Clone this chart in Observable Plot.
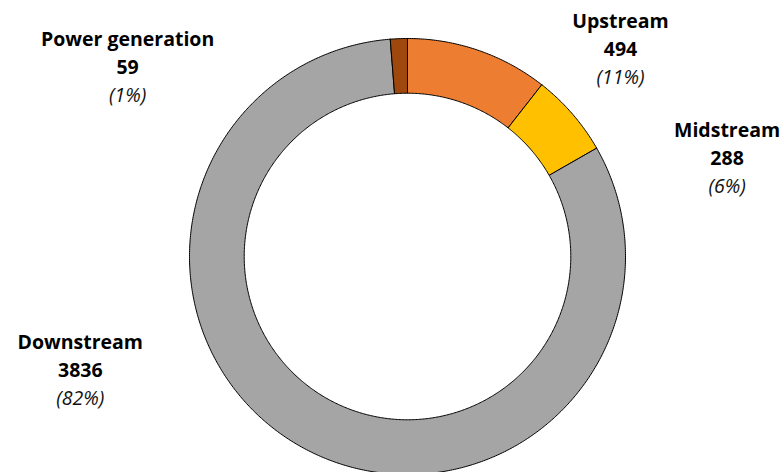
<!DOCTYPE html>
<html>
<head>
<meta charset="utf-8">
<script src="https://cdn.jsdelivr.net/npm/d3@7"></script>
<script src="https://cdn.jsdelivr.net/npm/@observablehq/plot@0.6"></script>
<style>
  html, body { margin: 0; padding: 0; background: #fff; }
  #chart { width: 783px; height: 472px; overflow: hidden; }
</style>
</head>
<body>
<div id="chart"></div>
<script>
// ---- data ----
const categories = ["Upstream", "Midstream", "Downstream", "Power generation"];
const values = [494, 288, 3836, 59];
const colors = ["#ED7D31", "#FFC000", "#A5A5A5", "#9E480E"];

// ---- layout (label placement, in units of outer radius) ----
const labelX = [0.977, 1.466, -1.501, -1.284];
const labelY = [0.950, 0.450, -0.523, 0.868];

const W = 783, H = 472;
const cx = 407, cy = 256, R = 218, innerRatio = 0.749;

const total = d3.sum(values);
const pie = d3.pie().sort(null).value(d => d.value);
const arcs = pie(categories.map((c, i) => ({category: c, value: values[i], color: colors[i]})));

// build slice outlines (closed polygons) in unit coordinates
const pts = [];
for (const a of arcs) {
  const n = Math.max(4, Math.ceil((a.endAngle - a.startAngle) / (Math.PI / 360)));
  const ring = [];
  for (let k = 0; k <= n; k++) {
    const t = a.startAngle + (a.endAngle - a.startAngle) * k / n;
    ring.push([Math.sin(t), Math.cos(t)]);
  }
  for (let k = n; k >= 0; k--) {
    const t = a.startAngle + (a.endAngle - a.startAngle) * k / n;
    ring.push([innerRatio * Math.sin(t), innerRatio * Math.cos(t)]);
  }
  ring.push(ring[0]);
  for (const [x, y] of ring) pts.push({category: a.data.category, x, y});
}

const labels = categories.map((c, i) => ({
  category: c,
  value: values[i],
  pct: "(" + Math.round(values[i] / total * 100) + "%)",
  x: labelX[i],
  y: labelY[i]
}));

const font = "'Open Sans', 'Noto Sans', sans-serif";
const fs = 19.5;

const plot = Plot.plot({
  width: W,
  height: H,
  margin: 0,
  style: {fontFamily: font, background: "#fff"},
  x: {domain: [-1, 1], range: [cx - R, cx + R], axis: null},
  y: {domain: [-1, 1], range: [cy + R, cy - R], axis: null},
  color: {domain: categories, range: colors},
  marks: [
    Plot.line(pts, {
      x: "x", y: "y", z: "category",
      fill: "category", stroke: "#000", strokeWidth: 1,
      curve: "linear"
    }),
    Plot.text(labels, {
      x: "x", y: "y",
      text: d => d.category,
      dy: -28, fontWeight: "bold", fontSize: fs, fill: "#000"
    }),
    Plot.text(labels, {
      x: "x", y: "y",
      text: d => String(d.value),
      dy: 0, fontWeight: "bold", fontSize: fs, fill: "#000"
    }),
    Plot.text(labels, {
      x: "x", y: "y",
      text: d => d.pct,
      dy: 28, fontStyle: "italic", fontSize: fs, fill: "#111"
    })
  ]
});
document.getElementById("chart").appendChild(plot);
</script>
</body>
</html>
